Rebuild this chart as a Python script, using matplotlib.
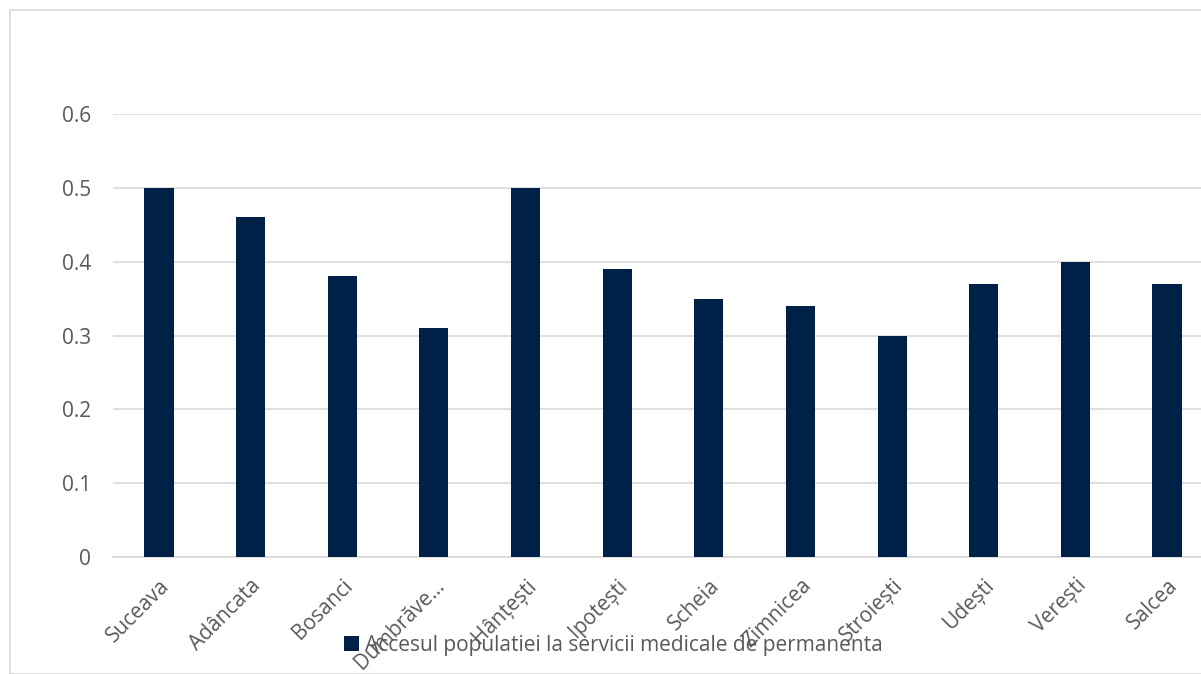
import numpy as np
import matplotlib; matplotlib.use("Agg")
import matplotlib.pyplot as plt
from matplotlib.patches import Rectangle

categories = ["Suceava", "Adâncata", "Bosanci", "Dumbrăve...", "Hânțești", "Ipotești",
              "Scheia", "Zimnicea", "Stroiești", "Udești", "Verești", "Salcea"]
values = [0.50, 0.46, 0.38, 0.31, 0.50, 0.39, 0.35, 0.34, 0.30, 0.37, 0.40, 0.37]
yticks = [0, 0.1, 0.2, 0.3, 0.4, 0.5, 0.6]
ytick_labels = ["0", "0.1", "0.2", "0.3", "0.4", "0.5", "0.6"]
series_name = "Accesul populatiei la servicii medicale de permanenta"

plt.rcParams.update({"font.family": ["Open Sans", "DejaVu Sans"], "font.size": 15})
W, H = 1201, 674
fig = plt.figure(figsize=(W/100, H/100), dpi=100)
fig.patches.append(Rectangle((10/W, 0), 1.2, 1 - 10/H, transform=fig.transFigure,
                             fill=False, edgecolor="#d9d9d9", linewidth=1.2))

ax = fig.add_axes([113/W, 1 - 557/H, 1100/W, (557 - 114)/H])
x = np.arange(len(categories))
bars = ax.bar(x, values, width=0.32, color="#002147", label=series_name, zorder=3)
ax.set_xlim(-0.5, len(categories) - 0.5)
ax.set_ylim(0, 0.6)
ax.set_yticks(yticks)
ax.set_yticklabels(ytick_labels)
ax.yaxis.grid(True, color="#d9d9d9", linewidth=1.2, zorder=0)
for s in ["top", "right", "left"]:
    ax.spines[s].set_visible(False)
ax.spines["bottom"].set_color("#d9d9d9")
ax.spines["bottom"].set_linewidth(1.2)
ax.tick_params(axis="both", length=0, colors="#595959", labelsize=15)
ax.tick_params(axis="y", pad=16)
ax.set_xticks(x)
ax.set_xticklabels(categories, rotation=45, ha="right", rotation_mode="anchor")
ax.tick_params(axis="x", pad=13)

fig.legend(handles=[bars], labels=[series_name], loc="center",
           bbox_to_anchor=(613/W, 1 - 645/H), frameon=False, fontsize=15,
           labelcolor="#595959", handlelength=0.75, handleheight=0.75, handletextpad=0.25)

fig.savefig("out.png", dpi=100)
